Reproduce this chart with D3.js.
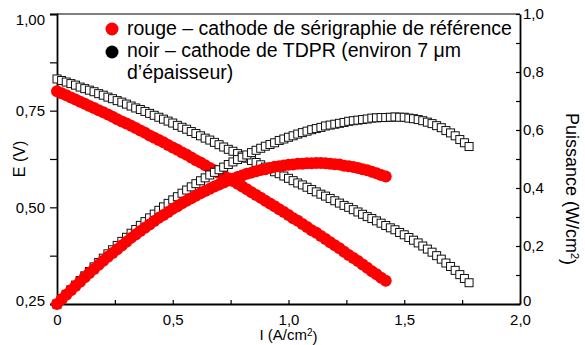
<!DOCTYPE html>
<head>
  <meta charset="utf-8">
  <style>
    html, body { margin: 0; padding: 0; background: #fff; overflow: hidden; }
    svg { display: block; }
  </style>
</head>
<body>
  <script src="https://cdn.jsdelivr.net/npm/d3@7"></script>
  <script>
    // current density (A/cm2), one point every 0.02
    const current = [
      0.00, 0.02, 0.04, 0.06, 0.08, 0.10, 0.12, 0.14, 0.16, 0.18,
      0.20, 0.22, 0.24, 0.26, 0.28, 0.30, 0.32, 0.34, 0.36, 0.38,
      0.40, 0.42, 0.44, 0.46, 0.48, 0.50, 0.52, 0.54, 0.56, 0.58,
      0.60, 0.62, 0.64, 0.66, 0.68, 0.70, 0.72, 0.74, 0.76, 0.78,
      0.80, 0.82, 0.84, 0.86, 0.88, 0.90, 0.92, 0.94, 0.96, 0.98,
      1.00, 1.02, 1.04, 1.06, 1.08, 1.10, 1.12, 1.14, 1.16, 1.18,
      1.20, 1.22, 1.24, 1.26, 1.28, 1.30, 1.32, 1.34, 1.36, 1.38,
      1.40, 1.42, 1.44, 1.46, 1.48, 1.50, 1.52, 1.54, 1.56, 1.58,
      1.60, 1.62, 1.64, 1.66, 1.68, 1.70, 1.72, 1.74, 1.76, 1.78
    ];

    // rouge: cathode de sérigraphie (72 points, up to 1.42)
    const redVoltage = [
      0.800, 0.795, 0.790, 0.784, 0.779, 0.773, 0.768, 0.762, 0.757, 0.751,
      0.746, 0.740, 0.734, 0.728, 0.722, 0.717, 0.711, 0.705, 0.699, 0.693,
      0.686, 0.680, 0.674, 0.668, 0.661, 0.655, 0.649, 0.642, 0.636, 0.629,
      0.622, 0.616, 0.609, 0.602, 0.596, 0.589, 0.582, 0.575, 0.568, 0.561,
      0.554, 0.547, 0.539, 0.532, 0.525, 0.517, 0.510, 0.503, 0.495, 0.488,
      0.480, 0.472, 0.465, 0.457, 0.449, 0.441, 0.434, 0.426, 0.418, 0.410,
      0.402, 0.394, 0.385, 0.377, 0.369, 0.361, 0.352, 0.344, 0.335, 0.327,
      0.318, 0.310
    ];
    const redPower = [
      0.000, 0.016, 0.032, 0.047, 0.062, 0.077, 0.092, 0.107, 0.121, 0.135,
      0.149, 0.163, 0.176, 0.189, 0.202, 0.215, 0.228, 0.240, 0.252, 0.263,
      0.274, 0.286, 0.297, 0.307, 0.317, 0.328, 0.337, 0.347, 0.356, 0.365,
      0.373, 0.382, 0.390, 0.397, 0.405, 0.412, 0.419, 0.426, 0.432, 0.438,
      0.443, 0.449, 0.453, 0.458, 0.462, 0.465, 0.469, 0.473, 0.475, 0.478,
      0.480, 0.481, 0.484, 0.484, 0.485, 0.485, 0.486, 0.486, 0.485, 0.484,
      0.482, 0.481, 0.477, 0.475, 0.472, 0.469, 0.465, 0.461, 0.456, 0.451,
      0.445, 0.440
    ];

    // noir: cathode de TDPR (90 points, up to 1.78)
    const blackVoltage = [
      0.832, 0.828, 0.824, 0.820, 0.816, 0.811, 0.807, 0.803, 0.799, 0.794,
      0.790, 0.785, 0.781, 0.776, 0.772, 0.767, 0.762, 0.757, 0.753, 0.748,
      0.743, 0.738, 0.733, 0.728, 0.723, 0.718, 0.712, 0.707, 0.702, 0.696,
      0.691, 0.685, 0.679, 0.674, 0.668, 0.662, 0.656, 0.650, 0.645, 0.639,
      0.633, 0.627, 0.621, 0.616, 0.610, 0.604, 0.598, 0.592, 0.587, 0.581,
      0.575, 0.569, 0.563, 0.558, 0.552, 0.546, 0.540, 0.534, 0.529, 0.523,
      0.517, 0.511, 0.505, 0.500, 0.494, 0.488, 0.482, 0.476, 0.471, 0.465,
      0.459, 0.453, 0.447, 0.442, 0.435, 0.429, 0.422, 0.415, 0.408, 0.400,
      0.392, 0.384, 0.375, 0.366, 0.356, 0.347, 0.337, 0.326, 0.316, 0.305
    ];
    const blackPower = [
      0.000, 0.017, 0.033, 0.049, 0.065, 0.081, 0.097, 0.112, 0.128, 0.143,
      0.158, 0.173, 0.187, 0.202, 0.216, 0.230, 0.244, 0.257, 0.271, 0.284,
      0.297, 0.310, 0.323, 0.335, 0.347, 0.359, 0.370, 0.382, 0.393, 0.404,
      0.415, 0.425, 0.435, 0.445, 0.454, 0.463, 0.472, 0.481, 0.490, 0.498,
      0.506, 0.514, 0.522, 0.530, 0.537, 0.544, 0.550, 0.556, 0.564, 0.569,
      0.575, 0.580, 0.586, 0.591, 0.596, 0.601, 0.605, 0.609, 0.614, 0.617,
      0.620, 0.623, 0.626, 0.630, 0.632, 0.634, 0.636, 0.638, 0.641, 0.642,
      0.643, 0.643, 0.644, 0.645, 0.644, 0.644, 0.641, 0.639, 0.636, 0.632,
      0.627, 0.622, 0.615, 0.608, 0.598, 0.590, 0.580, 0.567, 0.556, 0.543
    ];

    const xTicks = [0, 0.5, 1.0, 1.5, 2.0];
    const xMinor = [0.25, 0.75, 1.25, 1.75];
    const eTicks = [0.25, 0.50, 0.75, 1.00];
    const eMinor = [0.375, 0.625, 0.875];
    const pTicks = [0, 0.2, 0.4, 0.6, 0.8, 1.0];
    const pMinor = [0.1, 0.3, 0.5, 0.7, 0.9];

    const font = "Liberation Sans, Arial, sans-serif";
    const width = 585;
    const height = 345;
    const margin = {top: 14, right: 65, bottom: 41, left: 57};
    const innerWidth = width - margin.left - margin.right;
    const innerHeight = height - margin.top - margin.bottom;

    const fr = d3.formatLocale({decimal: ",", thousands: " ", grouping: [3], currency: ["", " €"]});
    const f2 = fr.format(".2f");
    const f1 = fr.format(".1f");

    const svg = d3.select("body").append("svg")
      .attr("width", width)
      .attr("height", height)
      .attr("font-family", font);
    const g = svg.append("g")
      .attr("transform", "translate(" + margin.left + "," + margin.top + ")");

    const x = d3.scaleLinear().domain([0, 2]).range([0, innerWidth]);
    const yE = d3.scaleLinear().domain([0.25, 1]).range([innerHeight, 0]);
    const yP = d3.scaleLinear().domain([0, 1]).range([innerHeight, 0]);

    const redE = redVoltage.map((v, i) => ({i: current[i], v: v}));
    const redP = redPower.map((v, i) => ({i: current[i], v: v}));
    const blackE = blackVoltage.map((v, i) => ({i: current[i], v: v}));
    const blackP = blackPower.map((v, i) => ({i: current[i], v: v}));

    // top border
    g.append("line")
      .attr("x1", 0).attr("x2", innerWidth)
      .attr("y1", 0).attr("y2", 0)
      .attr("stroke", "#000").attr("stroke-width", 1.2);

    //------------------------ AXES ------------------------//
    // minor ticks: plain tick lines, no labels
    function minorTicks(gr) {
      gr.select(".domain").remove();
      gr.selectAll("text").remove();
    }
    function styleAxis(gr) {
      gr.attr("font-size", 15).attr("font-family", font);
      gr.select(".domain").attr("stroke", "#000").attr("stroke-width", 1.8);
      gr.selectAll("line").attr("stroke", "#000").attr("stroke-width", 1.2);
      gr.selectAll("text").attr("fill", "#000");
    }

    const leftAxis = g.append("g")
      .call(d3.axisLeft(yE).tickValues(eTicks).tickSize(7).tickPadding(5).tickFormat(f2))
      .call(styleAxis);
    g.append("g")
      .call(d3.axisLeft(yE).tickValues(eMinor).tickSize(7))
      .call(minorTicks).call(styleAxis);

    g.append("g")
      .attr("transform", "translate(0," + innerHeight + ")")
      .call(d3.axisBottom(x).tickValues(xTicks).tickSizeInner(-4).tickSizeOuter(0).tickPadding(10)
        .tickFormat(d => d === 0 ? "0" : f1(d)))
      .call(styleAxis);
    g.append("g")
      .attr("transform", "translate(0," + innerHeight + ")")
      .call(d3.axisBottom(x).tickValues(xMinor).tickSizeInner(-4))
      .call(minorTicks).call(styleAxis);

    const rightAxis = g.append("g")
      .attr("transform", "translate(" + innerWidth + ",0)")
      .call(d3.axisRight(yP).tickValues(pTicks).tickSizeInner(-4).tickSizeOuter(0).tickPadding(3)
        .tickFormat(d => d === 0 ? "0" : f1(d)))
      .call(styleAxis);
    g.append("g")
      .attr("transform", "translate(" + innerWidth + ",0)")
      .call(d3.axisRight(yP).tickValues(pMinor).tickSizeInner(-4))
      .call(minorTicks).call(styleAxis);

    leftAxis.selectAll("text").attr("dy", d => d === 1 ? "0.7em" : (d === 0.25 ? "0.1em" : "0.32em"));
    rightAxis.selectAll("text").attr("dy", d => d === 0 ? "0.1em" : "0.32em");

    //------------------------ MARKS ------------------------//
    g.append("g").selectAll("circle").data(redE).enter().append("circle")
      .attr("cx", d => x(d.i)).attr("cy", d => yE(d.v)).attr("r", 6)
      .attr("fill", "#ff0000");

    const sq = 8;
    g.append("g").selectAll("rect").data(blackE).enter().append("rect")
      .attr("x", d => x(d.i) - sq / 2).attr("y", d => yE(d.v) - sq / 2)
      .attr("width", sq).attr("height", sq)
      .attr("fill", "#fff").attr("stroke", "#111").attr("stroke-width", 1);

    g.append("g").selectAll("rect").data(blackP).enter().append("rect")
      .attr("x", d => x(d.i) - sq / 2).attr("y", d => yP(d.v) - sq / 2)
      .attr("width", sq).attr("height", sq)
      .attr("fill", "#fff").attr("stroke", "#111").attr("stroke-width", 1);

    g.append("g").selectAll("circle").data(redP).enter().append("circle")
      .attr("cx", d => x(d.i)).attr("cy", d => yP(d.v)).attr("r", 6)
      .attr("fill", "#ff0000");

    //------------------------ TITLES ------------------------//
    svg.append("text")
      .attr("transform", "translate(25," + (margin.top + innerHeight / 2) + ") rotate(-90)")
      .attr("text-anchor", "middle")
      .attr("font-size", 16)
      .text("E (V)");

    const pt = svg.append("text")
      .attr("transform", "translate(566,189) rotate(90)")
      .attr("text-anchor", "middle")
      .attr("font-size", 18);
    pt.append("tspan").text("Puissance (W/cm");
    pt.append("tspan").attr("dy", "-0.45em").attr("font-size", 11).text("2");
    pt.append("tspan").attr("dy", "0.45em").text(")");

    const xt = svg.append("text")
      .attr("x", margin.left + innerWidth / 2)
      .attr("y", 340)
      .attr("text-anchor", "middle")
      .attr("font-size", 15);
    xt.append("tspan").text("I (A/cm");
    xt.append("tspan").attr("dy", "-0.45em").attr("font-size", 10).text("2");
    xt.append("tspan").attr("dy", "0.45em").text(")");

    //------------------------ LEGEND ------------------------//
    const legend = svg.append("g").attr("font-size", 19.5);
    legend.append("circle").attr("cx", 112).attr("cy", 29).attr("r", 6.5).attr("fill", "#ff0000");
    legend.append("circle").attr("cx", 112).attr("cy", 52).attr("r", 6.5).attr("fill", "#000");
    legend.append("text").attr("x", 127).attr("y", 35).text("rouge – cathode de sérigraphie de référence");
    legend.append("text").attr("x", 127).attr("y", 57).text("noir – cathode de TDPR (environ 7 μm");
    legend.append("text").attr("x", 127).attr("y", 79).text("d’épaisseur)");
  </script>
</body>
